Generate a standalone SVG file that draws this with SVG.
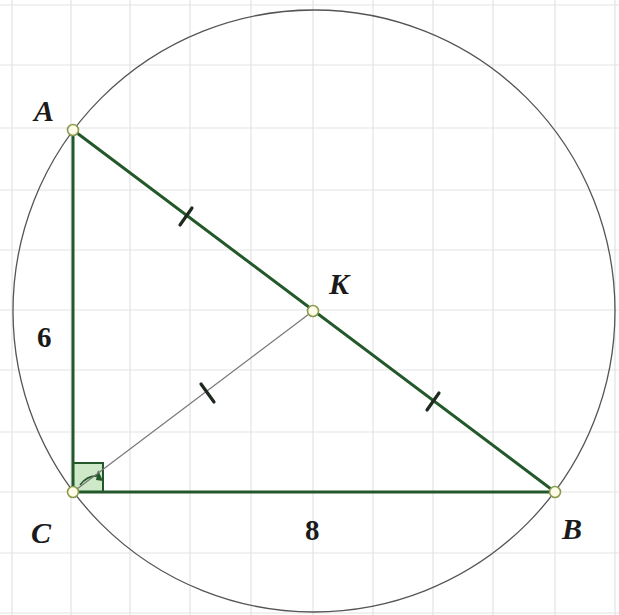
<svg xmlns="http://www.w3.org/2000/svg" width="619" height="615" viewBox="0 0 619 615">
<style>
.grid line{stroke:#e3e3e3;stroke-width:1.2}
.tri{stroke:#23592a;stroke-width:3;fill:none;stroke-linecap:round}
.tick{stroke:#1e2a1e;stroke-width:3.2;stroke-linecap:round}
.pt{fill:#fffbe6;stroke:#8a9a50;stroke-width:1.6}
.lbl{font-family:"Liberation Serif",serif;font-style:italic;font-weight:bold;font-size:30px;fill:#1a1a1a}
.num{font-family:"Liberation Serif",serif;font-weight:bold;font-size:29px;fill:#1a1a1a}
</style>
<rect width="619" height="615" fill="#ffffff"/>
<g class="grid">
<line x1="12" y1="0" x2="12" y2="615"/><line x1="71" y1="0" x2="71" y2="615"/><line x1="130" y1="0" x2="130" y2="615"/><line x1="190" y1="0" x2="190" y2="615"/><line x1="251" y1="0" x2="251" y2="615"/><line x1="313" y1="0" x2="313" y2="615"/><line x1="373" y1="0" x2="373" y2="615"/><line x1="433" y1="0" x2="433" y2="615"/><line x1="493" y1="0" x2="493" y2="615"/><line x1="555" y1="0" x2="555" y2="615"/><line x1="615" y1="0" x2="615" y2="615"/>
<line x1="0" y1="5" x2="619" y2="5"/><line x1="0" y1="65" x2="619" y2="65"/><line x1="0" y1="128" x2="619" y2="128"/><line x1="0" y1="190" x2="619" y2="190"/><line x1="0" y1="250" x2="619" y2="250"/><line x1="0" y1="310" x2="619" y2="310"/><line x1="0" y1="370" x2="619" y2="370"/><line x1="0" y1="432" x2="619" y2="432"/><line x1="0" y1="492" x2="619" y2="492"/><line x1="0" y1="553" x2="619" y2="553"/><line x1="0" y1="613" x2="619" y2="613"/>
</g>
<g id="circle"><circle cx="314" cy="311" r="301" fill="none" stroke="#555" stroke-width="1.3"/></g>
<g id="right-angle">
<rect x="73" y="463" width="30" height="29" fill="#cde9c8" stroke="#23592a" stroke-width="2"/>
<path d="M80 485 A22 22 0 0 1 100 476" fill="none" stroke="#23592a" stroke-width="1.6"/>
<path d="M98 470 L103 481 L96 480 Z" fill="#23592a"/>
</g>
<g id="connectors">
<line x1="73" y1="492" x2="313" y2="311" stroke="#777" stroke-width="1.2"/>
<line class="tri" x1="73" y1="130" x2="73" y2="492"/>
<line class="tri" x1="73" y1="492" x2="555" y2="492"/>
<line class="tri" x1="73" y1="130" x2="555" y2="492"/>
<line class="tick" x1="180" y1="225" x2="192" y2="208"/>
<line class="tick" x1="427" y1="410" x2="439" y2="393"/>
<line class="tick" x1="201" y1="384" x2="214" y2="402"/>
</g>
<g id="A"><circle class="pt" cx="73" cy="130" r="5.5"/><text class="lbl" x="34" y="121">A</text></g>
<g id="C"><circle class="pt" cx="73" cy="492" r="5.5"/><text class="lbl" x="31" y="543">C</text></g>
<g id="B"><circle class="pt" cx="555" cy="492" r="5.5"/><text class="lbl" x="562" y="539">B</text></g>
<g id="K"><circle class="pt" cx="313" cy="311" r="5.5"/><text class="lbl" x="329" y="294">K</text></g>
<text class="num" x="37" y="347">6</text>
<text class="num" x="305" y="540">8</text>
</svg>
